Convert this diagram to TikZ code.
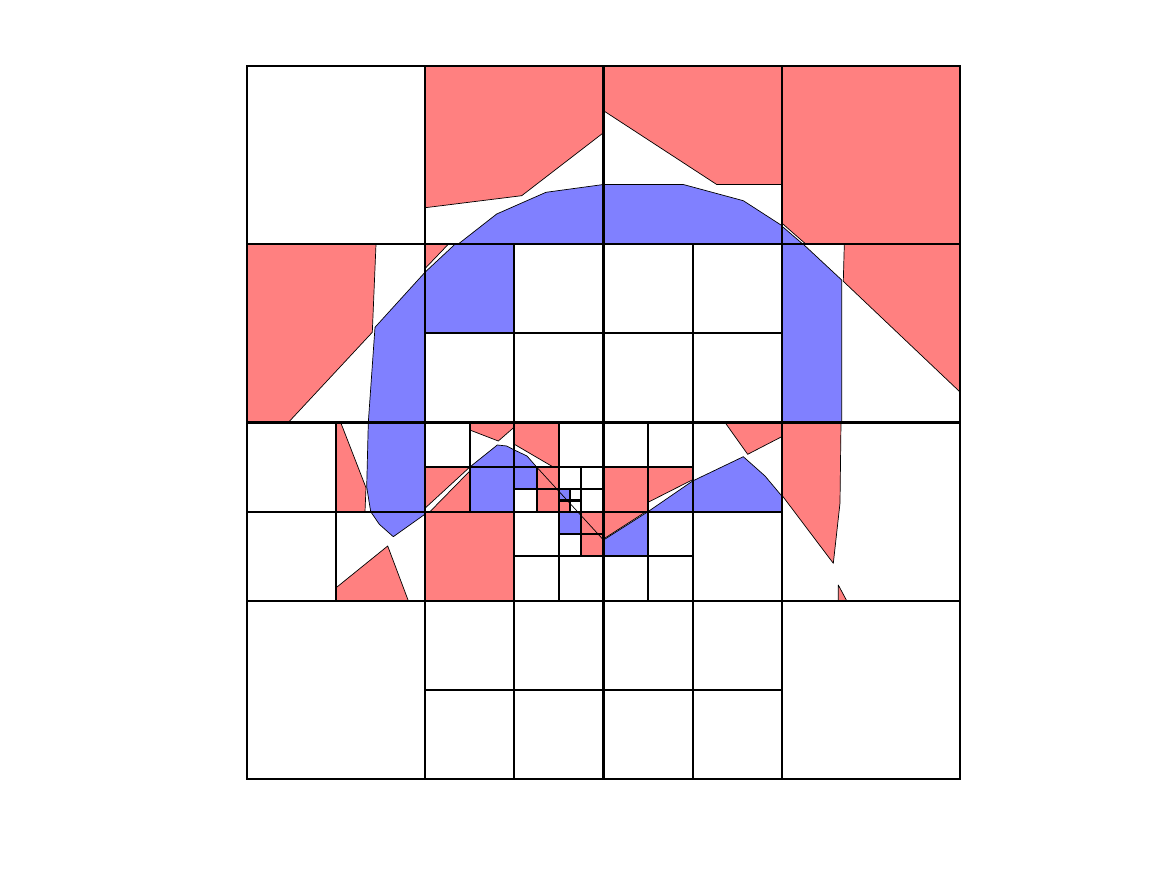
\documentclass[tikz,border=0pt]{standalone}
\definecolor{rfill}{RGB}{255,128,128}
\definecolor{bfill}{RGB}{128,128,255}
\tikzset{
  rp/.style={fill=rfill,draw=black,line width=0.6pt,line join=round},
  bp/.style={fill=bfill,draw=black,line width=0.6pt,line join=round},
  gridline/.style={draw=black,line width=1.8pt,line cap=rect}
}
\begin{document}
\begin{tikzpicture}[x=0.03cm,y=-0.03cm]
\useasboundingbox (0,0) rectangle (1167,875);
% red polygons
\path[rp] (425.25,66)--(603.5,66)--(603.5,132.7)--(521.7,195.7)--(425.25,207.7)--cycle;
\path[rp] (603.5,66)--(781.75,66)--(781.75,184.5)--(716.7,184.5)--(603.5,110.7)--cycle;
\path[rp] (781.75,66)--(960,66)--(960,244.25)--(806,244.25)--(781.75,223)--cycle;
\path[rp] (247,244.25)--(376,244.25)--(372.3,332.3)--(288.3,422.5)--(247,422.5)--cycle;
\path[rp] (425.25,244.25)--(448.3,244.25)--(425.25,268.3)--cycle;
\path[rp] (844.3,244.25)--(960,244.25)--(960,392)--(843.3,281.3)--cycle;
\path[rp] (336.125,422.5)--(340.7,422.5)--(366,487.7)--(365,511.625)--(336.125,511.625)--cycle;
\path[rp] (336.125,600.75)--(336.125,587.7)--(387.7,546)--(408.3,600.75)--cycle;
\path[rp] (469.8,422.5)--(514.375,422.5)--(514.375,427)--(498.3,441)--(469.8,430)--cycle;
\path[rp] (425.25,467.06)--(469.8,467.06)--(425.25,508)--cycle;
\path[rp] (469.8,471)--(469.8,511.625)--(430,511.625)--cycle;
\path[rp] (514.375,422.5)--(558.94,422.5)--(558.94,467.06)--(553.3,467.06)--(514.375,444.3)--cycle;
\path[rp] (536.66,467.06) rectangle (558.94,489.34);
\path[rp] (536.66,489.34) rectangle (558.94,511.625);
\path[rp] (425.25,511.625) rectangle (514.375,600.75);
\path[rp] (558.94,500.5) rectangle (570.1,511.625);
\path[rp] (581.2,511.625) rectangle (603.5,533.9);
\path[rp] (581.2,533.9) rectangle (603.5,556.19);
\path[rp] (603.5,467.06) rectangle (648.06,511.625);
\path[rp] (648.06,467.06)--(692.625,467.06)--(692.625,479.7)--(648.06,502.3)--cycle;
\path[rp] (603.5,511.625)--(646,511.625)--(603.5,539)--cycle;
\path[rp] (725,422.5)--(747.7,454.3)--(781.75,436.7)--(781.75,422.5)--cycle;
\path[rp] (781.75,422.5)--(841,422.5)--(840,503)--(833.3,563.3)--(781.75,495)--cycle;
\path[rp] (838.3,585)--(846.7,600.75)--(838.3,600.75)--cycle;
% blue polygons
\path[bp] (458,244.25)--(496.7,214)--(546,192.3)--(603.5,184.5)--(603.5,244.25)--cycle;
\path[bp] (603.5,184.5)--(683.3,184.5)--(743.3,200.7)--(781.75,225.5)--(781.75,244.25)--(603.5,244.25)--cycle;
\path[bp] (781.75,226)--(803,244.25)--(781.75,244.25)--cycle;
\path[bp] (425.25,272)--(375,327.3)--(368.3,422.5)--(425.25,422.5)--cycle;
\path[bp] (455,244.25)--(514.375,244.25)--(514.375,333.375)--(425.25,333.375)--(425.25,272)--cycle;
\path[bp] (781.75,244.25)--(803.3,244.25)--(841.7,280)--(841.7,422.5)--(781.75,422.5)--cycle;
\path[bp] (368.3,422.5)--(425.25,422.5)--(425.25,511.625)--(370.7,511.625)--(366.7,487)--cycle;
\path[bp] (370.7,511.625)--(379.3,524.3)--(393.3,536.7)--(425.25,514)--(425.25,511.625)--cycle;
\path[bp] (469.8,467.06)--(497.3,445)--(506.7,446)--(514.375,450)--(514.375,467.06)--cycle;
\path[bp] (469.8,467.06) rectangle (514.375,511.625);
\path[bp] (514.375,450)--(527,456)--(536.66,467.06)--(514.375,467.06)--cycle;
\path[bp] (514.375,467.06) rectangle (536.66,489.34);
\path[bp] (558.94,489.34) rectangle (570.1,500.5);
\path[bp] (558.94,511.625) rectangle (581.2,533.9);
\path[bp] (603.5,540)--(648.06,511.625)--(648.06,556.19)--(603.5,556.19)--cycle;
\path[bp] (648.06,511.625)--(692.625,481)--(692.625,511.625)--cycle;
\path[bp] (692.625,481)--(743.3,456.7)--(765,476)--(781.75,496)--(781.75,511.625)--(692.625,511.625)--cycle;
\coordinate (d1) at (536.66,467.06);
\coordinate (d2) at (603.5,540);
\draw[line width=0.6pt] (d1)--(d2);
% grid
\begin{scope}[shift={(247,66)},x=1.336875cm,y=-1.336875cm]
\draw[gridline] (0,0) rectangle (16,16);
\foreach \v in {4,8,12} {\draw[gridline] (\v,0)--(\v,16); \draw[gridline] (0,\v)--(16,\v);}
\draw[gridline] (4,6)--(12,6);
\draw[gridline] (0,10)--(12,10);
\draw[gridline] (4,14)--(12,14);
\draw[gridline] (6,4)--(6,16);
\draw[gridline] (10,4)--(10,16);
\draw[gridline] (2,8)--(2,12);
\draw[gridline] (4,9)--(10,9);
\draw[gridline] (6,11)--(10,11);
\draw[gridline] (5,8)--(5,10);
\draw[gridline] (7,8)--(7,12);
\draw[gridline] (9,8)--(9,12);
\draw[gridline] (6,9.5)--(8,9.5);
\draw[gridline] (7,10.5)--(8,10.5);
\draw[gridline] (6.5,9)--(6.5,10);
\draw[gridline] (7.5,9)--(7.5,11);
\draw[gridline] (7.25,9.5)--(7.25,10);
\draw[gridline] (7,9.75)--(7.5,9.75);
\end{scope}
\end{tikzpicture}
\end{document}
